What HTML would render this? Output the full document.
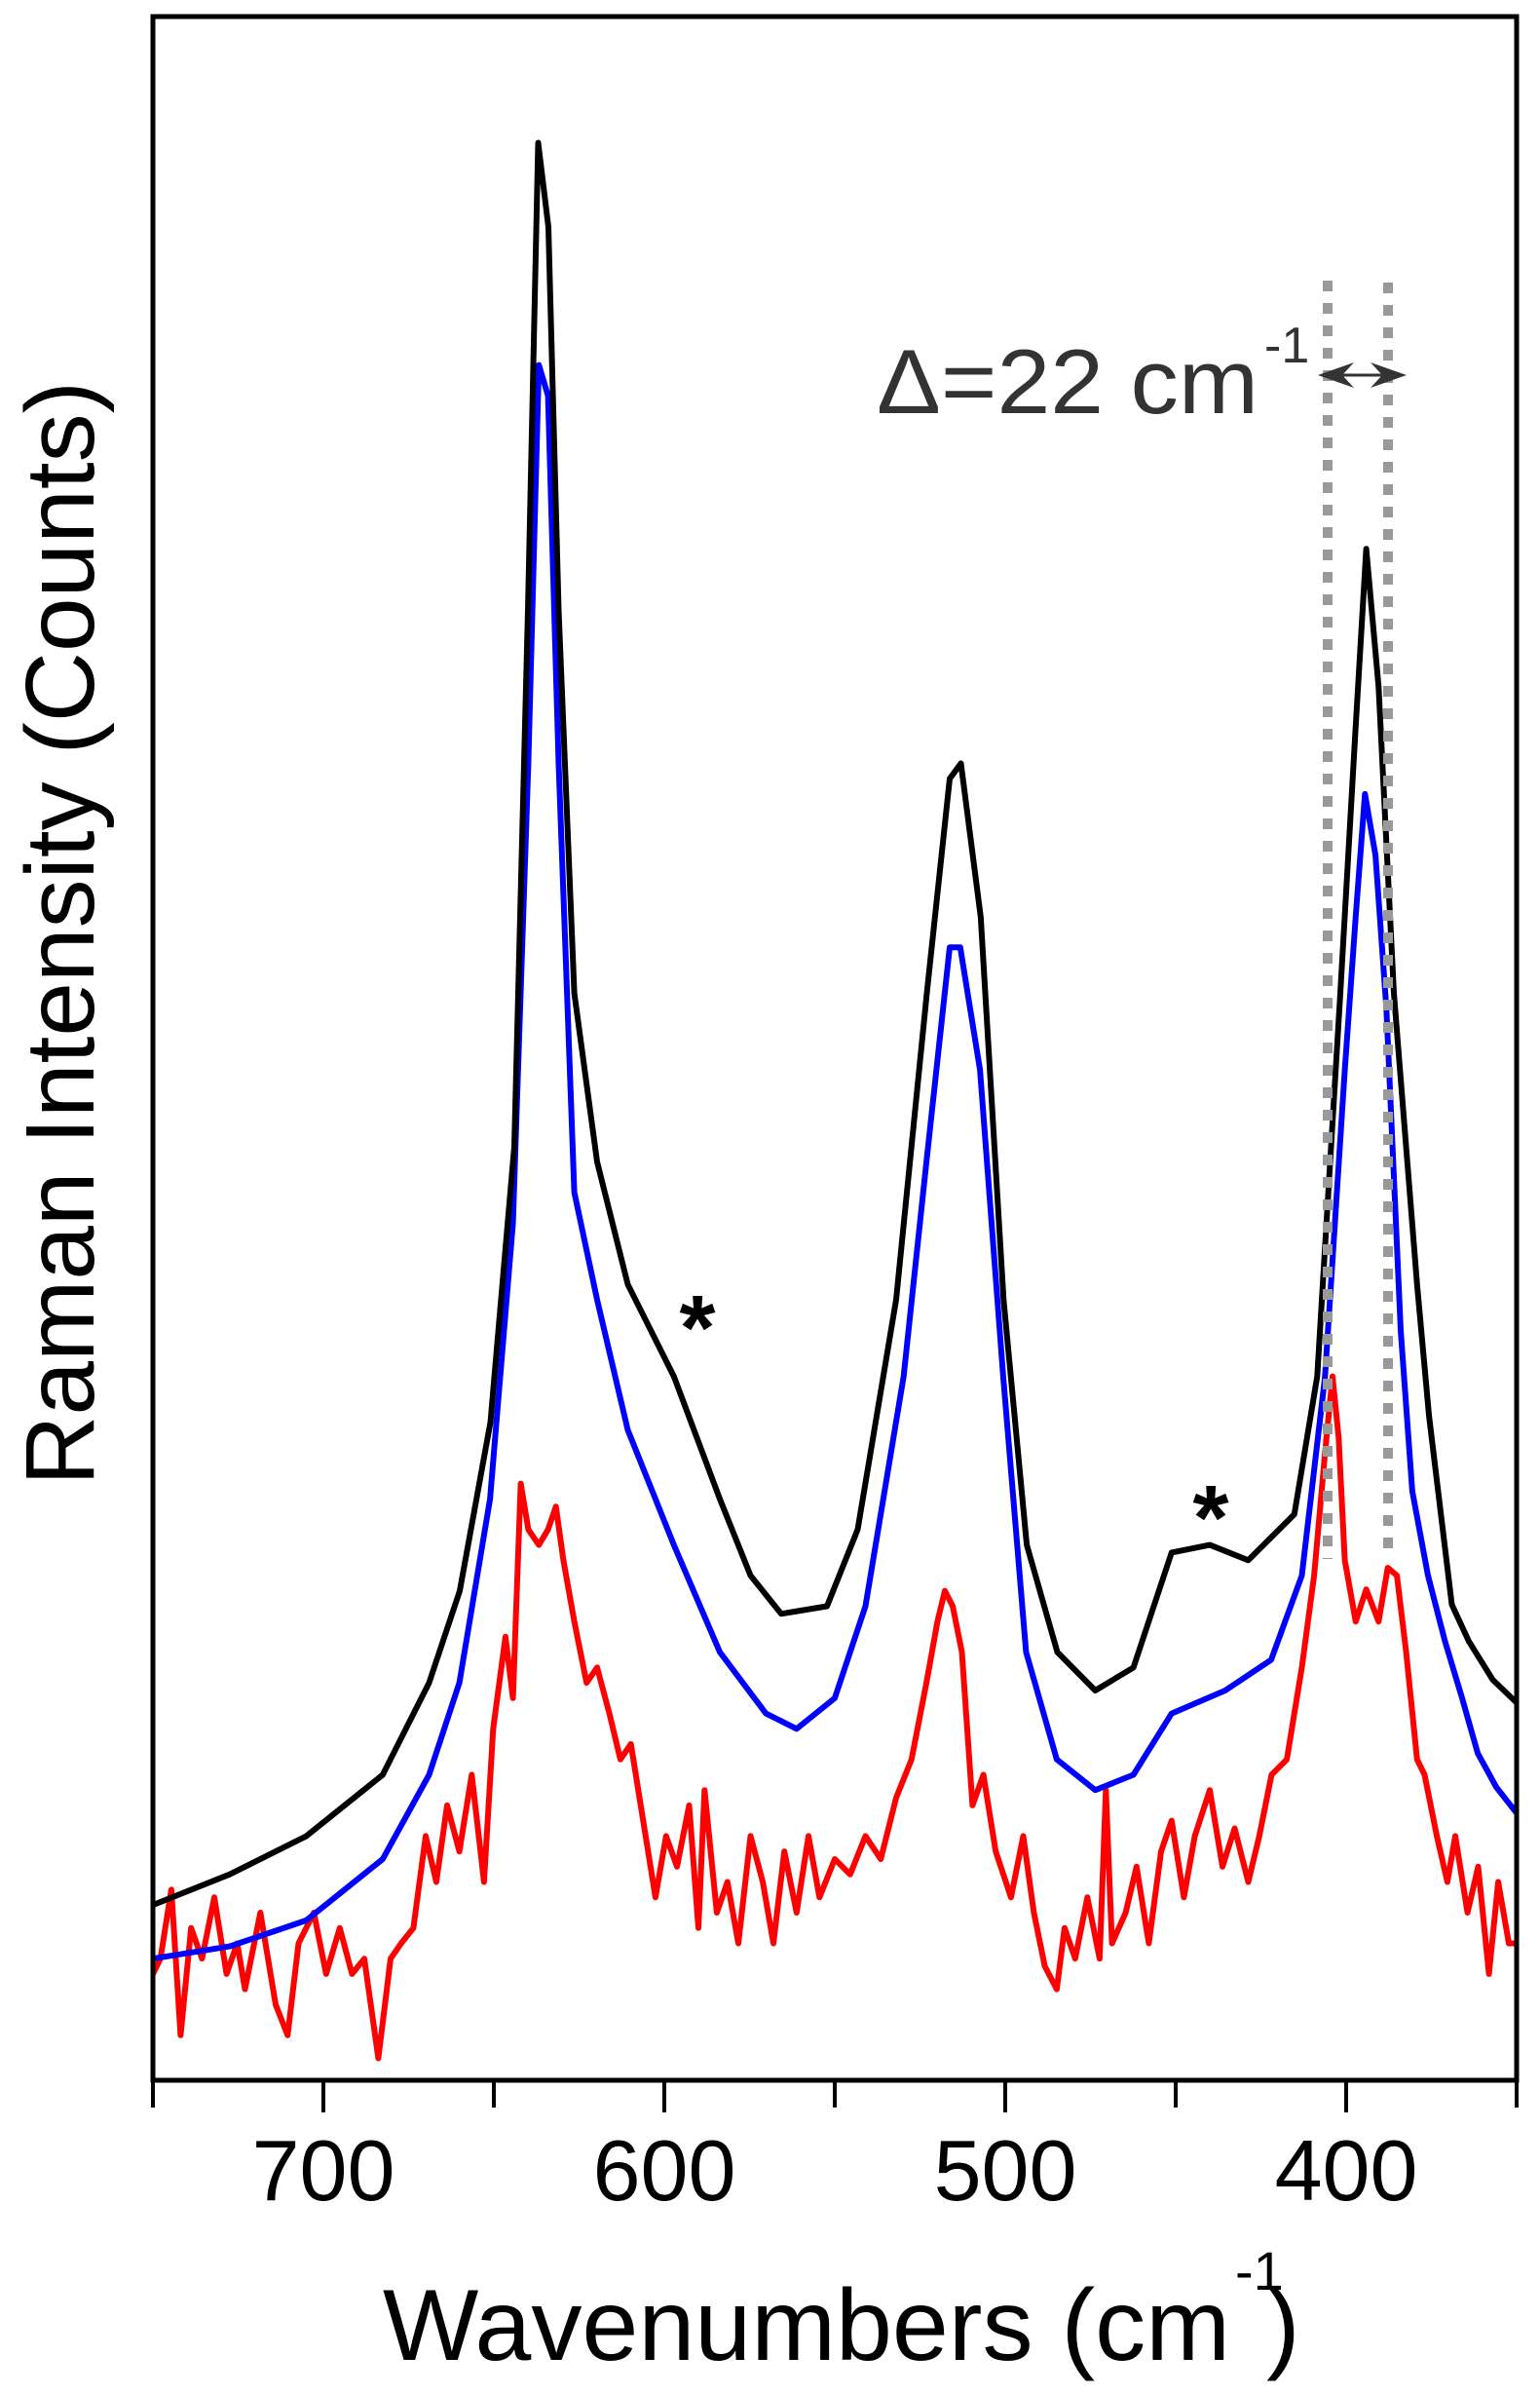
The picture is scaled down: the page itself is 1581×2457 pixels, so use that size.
<!DOCTYPE html>
<html><head><meta charset="utf-8"><style>
html,body{margin:0;padding:0;background:#fff;}
svg{display:block;font-family:"Liberation Sans",Arial,sans-serif;}
</style></head><body>
<svg id="chart" width="1581" height="2457" viewBox="0 0 1581 2457" xmlns="http://www.w3.org/2000/svg">
<rect width="1581" height="2457" fill="#fff"/>
<g id="series"></g>
<g id="annot">
  <line x1="1363" y1="288" x2="1363" y2="1600" stroke="#999" stroke-width="10" stroke-dasharray="11 12"/>
  <line x1="1425" y1="290" x2="1425" y2="1600" stroke="#999" stroke-width="10" stroke-dasharray="11 12"/>
  <g fill="#333" stroke="#333">
    <line x1="1370" y1="385" x2="1428" y2="385" stroke-width="3"/>
    <polygon points="1353,385 1390,372 1378,385 1390,398" stroke="none"/>
    <polygon points="1444,385 1407,372 1419,385 1407,398" stroke="none"/>
  </g>
  <text x="900" y="424" font-size="94" fill="#333" textLength="392" lengthAdjust="spacingAndGlyphs">Δ=22 cm</text>
  <text x="1298" y="372" font-size="52" fill="#333">-1</text>
  <text x="716" y="1395" font-size="95" font-weight="bold" text-anchor="middle">*</text>
  <text x="1243" y="1590" font-size="95" font-weight="bold" text-anchor="middle">*</text>
</g>
<rect x="157" y="17" width="1400" height="2118" fill="none" stroke="#000" stroke-width="5"/>
<g id="xaxis"></g>
<text x="393" y="2422" font-size="104" textLength="870" lengthAdjust="spacingAndGlyphs">Wavenumbers (cm</text>
<text x="1268" y="2350" font-size="56">-1</text>
<text x="1300" y="2422" font-size="104">)</text>
<text transform="translate(96,958) rotate(-90)" font-size="100" text-anchor="middle">Raman Intensity (Counts)</text>
</svg>
<script>
const xTicks = [700, 600, 500, 400];
const xMinor = [750, 650, 550, 450, 350];
const blackWn = [750,727.5,705,682.6,669,660,651,644,640,637,634,631,626.4,619.7,610.7,597.2,583.7,574.7,565.7,552.3,543.3,532,523,516.3,513,507.2,500.5,493.7,484.7,473.6,462.4,451.2,440,428.7,415.2,408.5,401.7,397.3,394.1,390.5,386,379.2,375.7,369,364,357,350];
const blackCounts = [115,135,160,200,260,320,430,610,960,1265,1210,960,710,600,520,460,380,330,305,310,360,510,710,850,860,760,510,350,280,255,270,345,350,340,370,460,710,880,1000,910,710,520,434,311,287,262,247];
const blueWn = [750,727.5,705,682.6,669,660.1,651.1,644.4,639.9,636.8,634.1,631,626.4,619.7,610.7,597.2,583.7,570.2,561.2,550,541,529.8,523.1,516.3,513.2,507.4,500.6,493.9,484.9,473.6,462.4,451.2,435.5,422,413,406.2,400.4,397.2,394.5,391.4,388.2,384,380.6,376,371,366,361.4,356,350];
const blueCounts = [80,88,105,145,200,260,380,560,860,1120,1100,860,580,510,425,350,280,240,230,250,310,460,600,740,740,660,460,280,210,190,200,240,255,275,330,460,660,760,840,800,700,490,385,330,287,250,214,192,175];
const redWn = [750,747.8,744.6,741.9,738.8,735.6,732.0,728.4,725.3,723.0,718.5,714.0,710.5,707.3,702.8,699.2,695.2,691.6,688.0,683.9,680.3,677.2,673.6,670.0,666.9,663.7,660.1,656.5,652.9,650.2,646.6,644.4,642.1,639.9,636.8,634.1,631.8,629.6,626.4,622.8,619.7,616.1,612.9,609.8,606.2,602.6,599.5,596.3,592.7,590.0,588.2,584.6,581.5,578.3,574.7,571.1,568.0,564.8,561.2,557.7,554.5,550.0,545.5,541.0,536.5,532.0,527.5,523.1,519.9,517.7,515.4,512.7,509.6,506.4,502.8,498.3,494.7,491.6,488.4,484.9,482.6,479.5,475.9,472.3,470.5,468.7,464.7,461.5,457.9,454.3,451.2,447.6,444.4,440.0,436.3,432.7,428.7,425.5,421.9,417.4,413.0,409.4,406.2,404.0,402.2,400.4,397.2,394.1,390.5,387.8,385.1,382.4,379.2,377.0,373.4,370.3,368.0,364.4,361.3,358.1,355.4,352.3,350];
const redCounts = [70,80,125,30,100,80,120,70,90,60,110,50,30,90,110,70,100,70,80,15,80,90,100,160,130,180,150,200,130,230,290,250,390,360,350,360,375,340,300,260,270,240,210,220,170,120,160,140,180,100,190,110,130,90,160,130,90,150,110,160,120,145,135,160,145,185,210,260,300,320,310,280,180,200,150,120,160,110,75,60,100,80,120,80,190,90,110,140,90,150,170,120,160,190,140,165,130,160,200,210,270,330,410,460,420,340,300,321,300,335,330,280,210,200,160,130,160,110,140,70,130,90,90];

const NS = 'http://www.w3.org/2000/svg';
const X0 = 157, X1 = 1557, Y0 = 2136, Y1 = 16;
const xMax = 750, xMin = 350, yMax = 1348;
function xs(v){ return X0 + (xMax - v) / (xMax - xMin) * (X1 - X0); }
function ys(v){ return Y0 - v / yMax * (Y0 - Y1); }

const sg = document.getElementById('series');
function drawSeries(wn, counts, color, name){
  const n = Math.min(wn.length, counts.length);
  let d = '';
  for (let i = 0; i < n; i++) d += (i ? 'L' : 'M') + xs(wn[i]).toFixed(1) + ',' + ys(counts[i]).toFixed(1);
  const p = document.createElementNS(NS, 'path');
  p.setAttribute('d', d);
  p.setAttribute('fill', 'none');
  p.setAttribute('stroke', color);
  p.setAttribute('stroke-width', '6');
  p.setAttribute('stroke-linejoin', 'round');
  
  
  sg.appendChild(p);
}
drawSeries(redWn, redCounts, '#ff0000', 'red-spectrum');
drawSeries(blueWn, blueCounts, '#0000ff', 'blue-spectrum');
drawSeries(blackWn, blackCounts, '#000000', 'black-spectrum');

const xa = document.getElementById('xaxis');
xMinor.forEach(v => {
  const l = document.createElementNS(NS, 'line');
  l.setAttribute('x1', xs(v)); l.setAttribute('x2', xs(v));
  l.setAttribute('y1', 2136); l.setAttribute('y2', 2163);
  l.setAttribute('stroke', '#000'); l.setAttribute('stroke-width', '4');
  
  
  xa.appendChild(l);
});
xTicks.forEach(v => {
  const l = document.createElementNS(NS, 'line');
  l.setAttribute('x1', xs(v)); l.setAttribute('x2', xs(v));
  l.setAttribute('y1', 2136); l.setAttribute('y2', 2168);
  l.setAttribute('stroke', '#000'); l.setAttribute('stroke-width', '4');
  
  
  xa.appendChild(l);
  const t = document.createElementNS(NS, 'text');
  t.setAttribute('x', xs(v)); t.setAttribute('y', 2258);
  t.setAttribute('font-size', '88'); t.setAttribute('text-anchor', 'middle');
  t.textContent = v;
  
  
  xa.appendChild(t);
});
</script>
</body></html>
